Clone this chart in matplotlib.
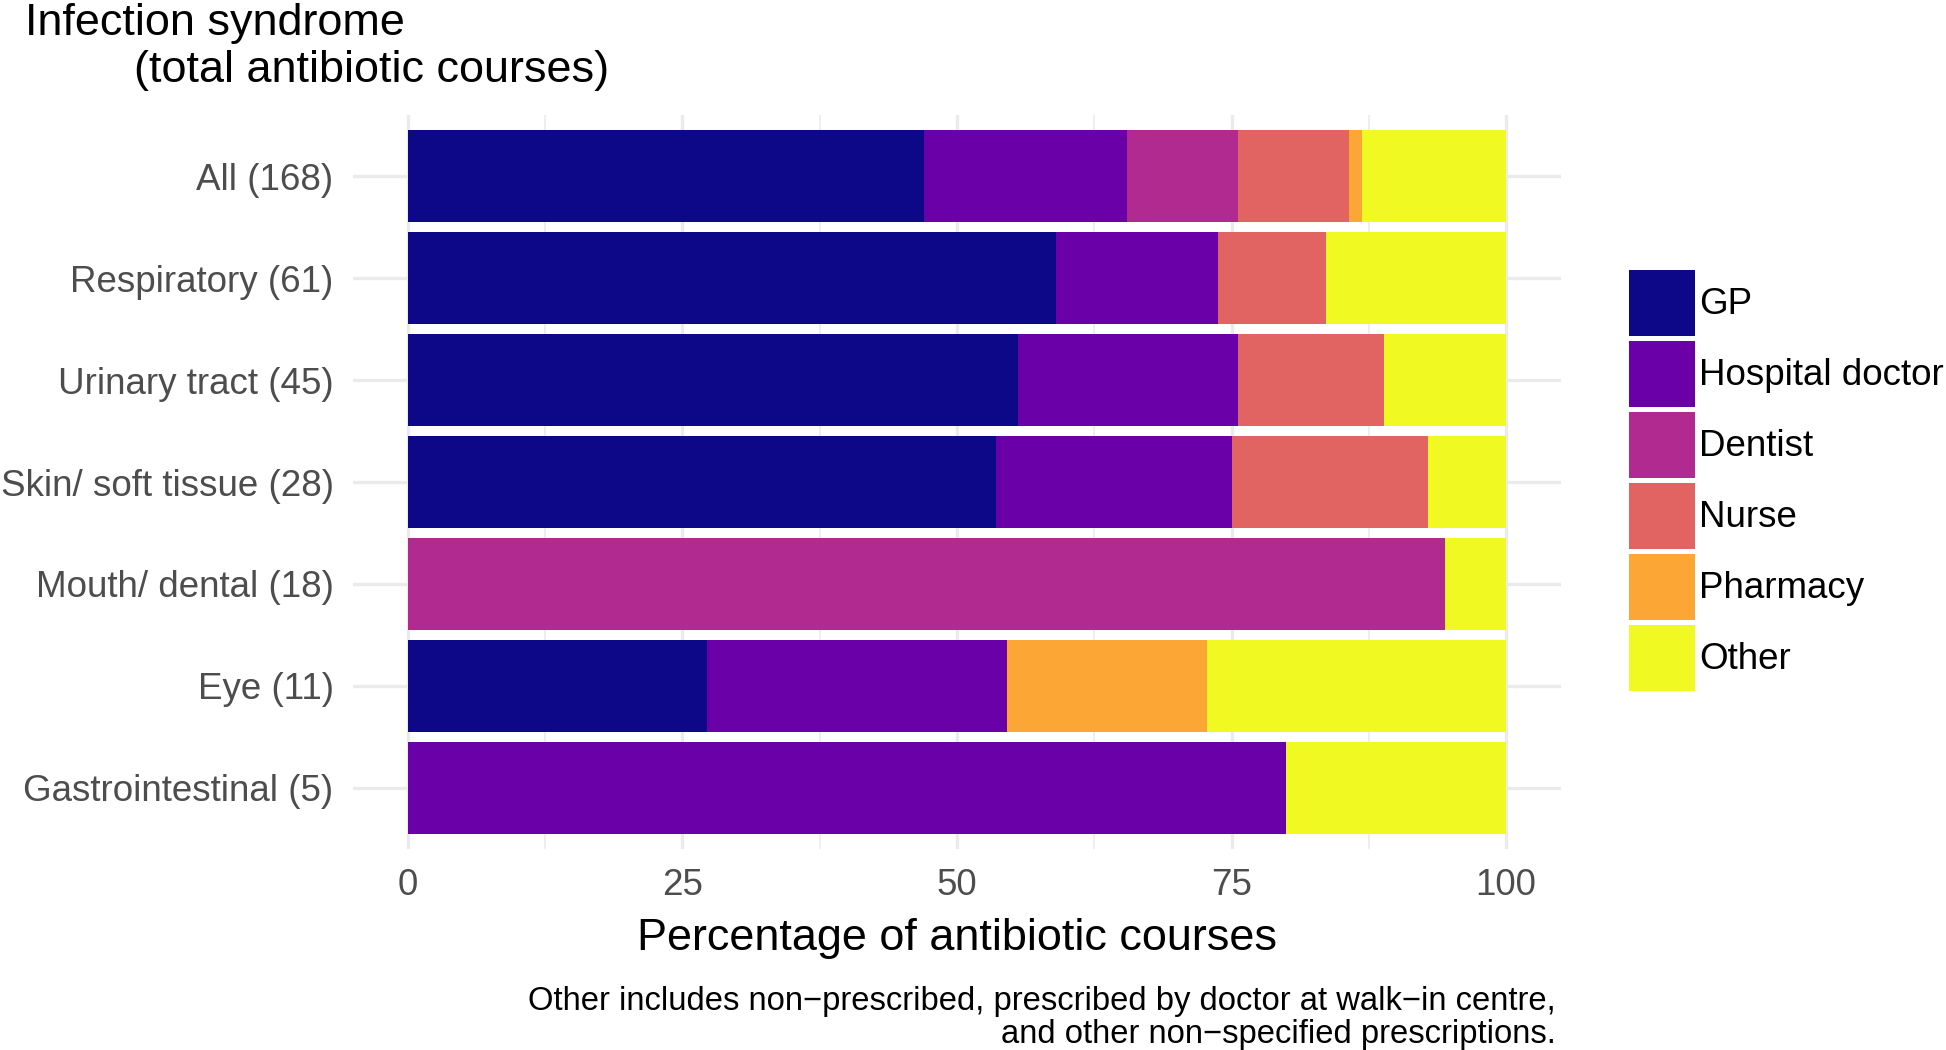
import numpy as np
import matplotlib
matplotlib.use("Agg")
import matplotlib.pyplot as plt
from matplotlib.ticker import MultipleLocator

plt.rcParams['font.family'] = ['Liberation Sans', 'DejaVu Sans']

# data: number of courses per prescriber for each infection syndrome
categories = ['All (168)', 'Respiratory (61)', 'Urinary tract (45)',
              'Skin/ soft tissue (28)', 'Mouth/ dental (18)', 'Eye (11)',
              'Gastrointestinal (5)']
totals = np.array([168, 61, 45, 28, 18, 11, 5])
prescribers = ['GP', 'Hospital doctor', 'Dentist', 'Nurse', 'Pharmacy', 'Other']
gp = [79, 36, 25, 15, 0, 3, 0]
hospital = [31, 9, 9, 6, 0, 3, 4]
dentist = [17, 0, 0, 0, 17, 0, 0]
nurse = [17, 6, 6, 5, 0, 0, 0]
pharmacy = [2, 0, 0, 0, 0, 2, 0]
other = [22, 10, 5, 2, 1, 3, 1]
colors = ['#0D0887', '#6A00A8', '#B12A90', '#E16462', '#FCA636', '#F0F921']

W, H = 1946, 1050
fig = plt.figure(figsize=(W / 100, H / 100), dpi=100)
ax = fig.add_axes([353 / W, 1 - 849 / H, (1561 - 353) / W, (849 - 115) / H])

y = np.arange(len(categories))
left = np.zeros(len(categories))
for name, counts, col in zip(prescribers, [gp, hospital, dentist, nurse, pharmacy, other], colors):
    pct = np.array(counts) / totals * 100
    ax.barh(y, pct, left=left, height=0.9, color=col, label=name, zorder=2)
    left += pct

ax.set_xlim(-5, 105)
ax.set_ylim(len(categories) - 0.4, -0.6)
ax.set_yticks(y)
ax.set_yticklabels(categories)
ax.xaxis.set_major_locator(MultipleLocator(25))
ax.xaxis.set_minor_locator(MultipleLocator(12.5))
ax.grid(which='major', color='#EBEBEB', linewidth=2.4, zorder=0)
ax.grid(which='minor', axis='x', color='#EBEBEB', linewidth=1.2, zorder=0)
ax.set_axisbelow(True)
for s in ax.spines.values():
    s.set_visible(False)
ax.tick_params(axis='both', which='both', length=0, labelsize=26.5, colors='#4D4D4D')
ax.tick_params(axis='y', pad=14)
ax.tick_params(axis='x', pad=13.8)

ax.set_xlabel('Percentage of antibiotic courses', fontsize=32.4, labelpad=11)

fig.text(25 / W, 1 - 35 / H, 'Infection syndrome', fontsize=32.4, va='baseline', ha='left')
fig.text(134 / W, 1 - 82 / H, '(total antibiotic courses)', fontsize=32.4, va='baseline', ha='left')

fig.text(1556 / W, 1 - 1043 / H,
         'Other includes non\u2212prescribed, prescribed by doctor at walk\u2212in centre,\n'
         'and other non\u2212specified prescriptions.',
         fontsize=23.6, ha='right', va='baseline', multialignment='right', linespacing=1.1)

# legend keys: 66 px squares, 5 px apart
fs = 26.5 * 100 / 72
key = 66 / fs
hh = (key - 0.245) / 0.65
ax.legend(loc='upper left', bbox_to_anchor=(1629 / W, 1 - 270 / H),
          bbox_transform=fig.transFigure, frameon=False, fontsize=26.5,
          handlelength=key, handleheight=hh, labelspacing=5 / fs,
          handletextpad=4 / fs, borderpad=0, borderaxespad=0)

fig.savefig('out.png', dpi=100)
